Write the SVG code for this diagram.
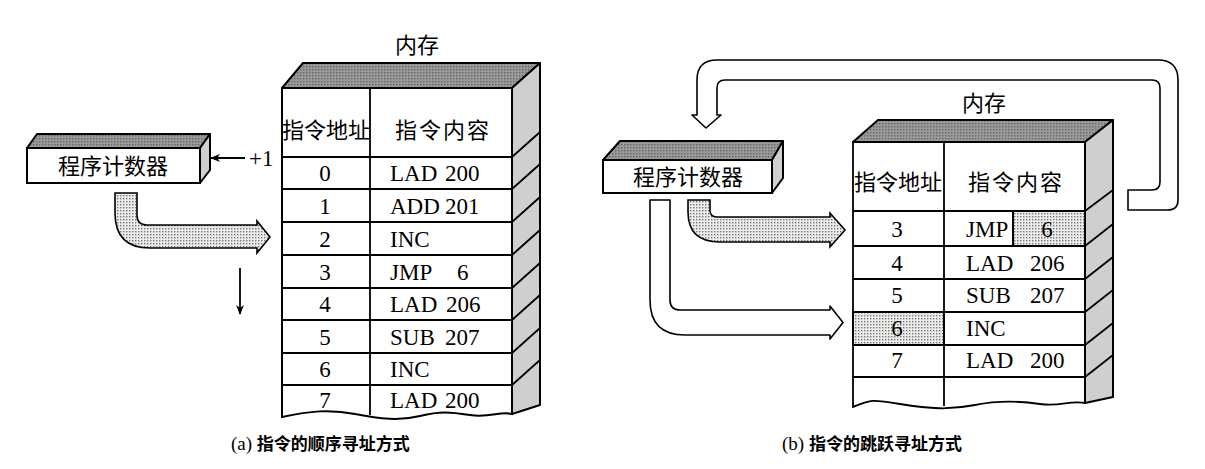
<svg xmlns="http://www.w3.org/2000/svg" width="1205" height="469" viewBox="0 0 1205 469">
<style>
.ln{stroke:#000;stroke-width:1.8;fill:none}
.fr{fill:#fff;stroke:#000;stroke-width:2}
.top{fill:url(#dk);stroke:#000;stroke-width:2;stroke-linejoin:round}
.side{fill:#cfcfcf;stroke:#000;stroke-width:2;stroke-linejoin:round}
.dot{fill:url(#lt);stroke:#000;stroke-width:1.6}
.t{font-family:"Liberation Serif","Noto Sans CJK SC",serif;font-size:23px;fill:#000}
.c{text-anchor:middle}
.zh{font-family:"Liberation Serif","Noto Sans CJK SC",serif;font-size:22px;fill:#000}
.cap{font-family:"Liberation Serif","Noto Sans CJK SC",serif;font-size:19px;fill:#000}
.b{font-weight:bold;font-size:17px}
.arr{fill:#fff;stroke:#000;stroke-width:1.6;stroke-linejoin:round}
</style>
<defs>
<pattern id="lt" width="3" height="3" patternUnits="userSpaceOnUse"><rect width="3" height="3" fill="#ececec"/><rect width="1.4" height="1.4" fill="#777"/></pattern>
<pattern id="dk" width="3" height="3" patternUnits="userSpaceOnUse"><rect width="3" height="3" fill="#9a9a9a"/><rect width="1.4" height="1.4" fill="#666"/></pattern>
<marker id="ah" markerWidth="10" markerHeight="10" refX="9" refY="5" orient="auto" markerUnits="userSpaceOnUse"><path d="M0,1 L10,5 L0,9 L3,5 Z" fill="#000"/></marker>
</defs>
<rect width="1205" height="469" fill="#fff"/>

<!-- (a) program counter -->
<g id="pc-a">
<polygon class="top" points="27,148 37,134 210,134 200,148"/>
<polygon class="side" points="200,148 210,134 210,170 200,183"/>
<rect class="fr" x="27" y="148" width="173" height="35"/>
<text class="zh c" x="113" y="174">程序计数器</text>
</g>

<!-- (a) memory -->
<g id="mem-a">
<text class="zh c" x="417" y="53">内存</text>
<polygon class="top" points="282,88 303,63 540,63 512,88"/>
<polygon class="side" points="512,88 540,63 540,405 512,414"/>
<path class="fr" d="M282,88 L512,88 L512,414 C500,411 490,418 470,415 S440,411 420,416 S380,419 355,414 S310,411 282,417 Z"/>
<path class="ln" d="M370,88 V415 M282,157 H512 M282,189 H512 M282,222 H512 M282,255 H512 M282,288 H512 M282,320 H512 M282,353 H512 M282,385 H512"/>
<path class="ln" d="M512,157 L540,132 M512,189 L540,164 M512,222 L540,197 M512,255 L540,230 M512,288 L540,263 M512,320 L540,295 M512,353 L540,328 M512,385 L540,360"/>
<text class="zh c" x="326" y="138">指令地址</text>
<text class="zh c" x="443" y="138" letter-spacing="2">指令内容</text>
<g class="t">
<text class="c" x="325" y="181">0</text><text x="390" y="181">LAD<tspan x="445">200</tspan></text>
<text class="c" x="325" y="214">1</text><text x="390" y="214">ADD<tspan x="445">201</tspan></text>
<text class="c" x="325" y="247">2</text><text x="390" y="247">INC</text>
<text class="c" x="325" y="280">3</text><text x="390" y="280">JMP<tspan x="457">6</tspan></text>
<text class="c" x="325" y="312">4</text><text x="390" y="312">LAD<tspan x="446">206</tspan></text>
<text class="c" x="325" y="345">5</text><text x="390" y="345">SUB<tspan x="445">207</tspan></text>
<text class="c" x="325" y="377">6</text><text x="390" y="377">INC</text>
<text class="c" x="325" y="408">7</text><text x="390" y="408">LAD<tspan x="445">200</tspan></text>
</g>
</g>

<!-- (b) program counter -->
<g id="pc-b">
<polygon class="top" points="603,160 620,141 783,141 772,160"/>
<polygon class="side" points="772,160 783,141 783,178 772,193"/>
<rect class="fr" x="603" y="160" width="169" height="33"/>
<text class="zh c" x="688" y="185">程序计数器</text>
</g>

<!-- (b) memory -->
<g id="mem-b">
<text class="zh c" x="984" y="111">内存</text>
<polygon class="top" points="853,142 878,120 1113,120 1085,142"/>
<polygon class="side" points="1085,142 1113,120 1113,397 1085,403"/>
<rect class="dot" x="1013" y="211" width="72" height="35"/>
<rect class="dot" x="853" y="312" width="91" height="33"/>
<path class="ln" d="M853,142 H1085 V403 C1070,400 1060,407 1040,404 S1000,400 975,405 S930,409 900,404 S870,400 853,407 Z"/>
<path class="ln" d="M944,142 V406 M853,211 H1085 M853,246 H1085 M853,279 H1085 M853,312 H1085 M853,345 H1085 M853,377 H1085 M1013,211 V246"/>
<path class="ln" d="M1085,211 L1113,190 M1085,246 L1113,224 M1085,279 L1113,257 M1085,312 L1113,290 M1085,345 L1113,323 M1085,377 L1113,355"/>
<text class="zh c" x="898" y="190">指令地址</text>
<text class="zh c" x="1016" y="190" letter-spacing="2">指令内容</text>
<g class="t">
<text class="c" x="897" y="237">3</text><text x="966" y="237">JMP</text><text class="c" x="1047" y="237">6</text>
<text class="c" x="897" y="271">4</text><text x="966" y="271">LAD<tspan x="1030">206</tspan></text>
<text class="c" x="897" y="303">5</text><text x="966" y="303">SUB<tspan x="1030">207</tspan></text>
<text class="c" x="897" y="336">6</text><text x="966" y="336">INC</text>
<text class="c" x="897" y="368">7</text><text x="966" y="368">LAD<tspan x="1030">200</tspan></text>
</g>
</g>

<!-- connectors -->
<g id="connectors">
<line class="ln" x1="245" y1="158" x2="211" y2="158" marker-end="url(#ah)"/>
<text class="t" x="249" y="166" font-size="21">+1</text>
<path class="dot" d="M115,193 L137,193 L137,215 Q137,225 147,225 L257,225 L257,221 L270,237 L257,253 L257,248 L150,248 Q115,248 115,213 Z"/>
<line class="ln" x1="240" y1="268" x2="240" y2="314" marker-end="url(#ah)"/>
<path class="dot" d="M688,200 L710,200 L710,210 Q710,217 717,217 L830,217 L830,213 L845,230 L830,247 L830,242 L720,242 Q688,242 688,212 Z"/>
<path class="arr" d="M650,200 L670,200 L670,300 Q670,310 680,310 L830,310 L830,306 L843,322.5 L830,339 L830,335 L685,335 Q650,335 650,300 Z"/>
<path class="arr" d="M697,115 L697,80 Q697,60 717,60 L1158,60 Q1178,60 1178,80 L1178,200 Q1178,210 1168,210 L1128,210 L1128,190 L1152,190 Q1160,190 1160,182 L1160,88 Q1160,80 1152,80 L725,80 Q717,80 717,88 L717,115 L721,115 L706,128 L692,115 Z"/>
</g>

<g id="captions">
<text class="cap" x="231" y="450">(a) <tspan class="b">指令的顺序寻址方式</tspan></text>
<text class="cap" x="782" y="450">(b) <tspan class="b">指令的跳跃寻址方式</tspan></text>
</g>
</svg>
